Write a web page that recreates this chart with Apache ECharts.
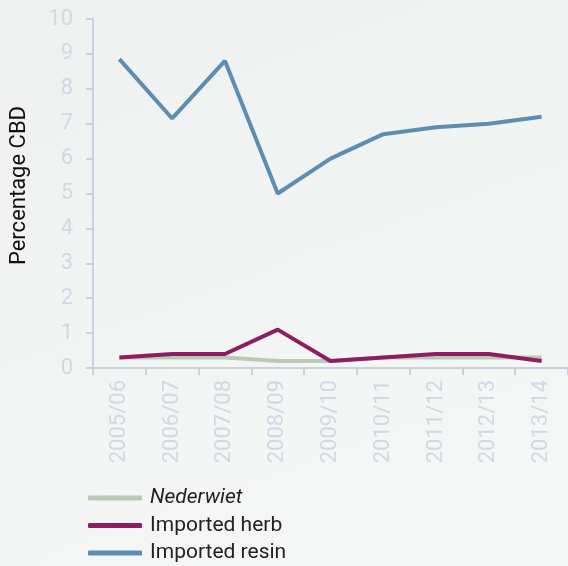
<!DOCTYPE html>
<html>
<head>
<meta charset="utf-8">
<script src="https://cdn.jsdelivr.net/npm/echarts@6/dist/echarts.min.js"></script>
<style>
  html, body { margin: 0; padding: 0; }
  #chart { width: 568px; height: 566px; background: linear-gradient(160deg, #eff0f0, #f6f7f7); }
</style>
</head>
<body>
<div id="chart"></div>
<script>
let years = ['2005/06', '2006/07', '2007/08', '2008/09', '2009/10', '2010/11', '2011/12', '2012/13', '2013/14']
let nederwiet = [0.3, 0.3, 0.3, 0.2, 0.2, 0.3, 0.3, 0.3, 0.3]
let importedHerb = [0.3, 0.4, 0.4, 1.1, 0.2, 0.3, 0.4, 0.4, 0.2]
let importedResin = [8.85, 7.15, 8.8, 5.0, 6.0, 6.7, 6.9, 7.0, 7.2]

let axisColor = '#c9d3df'
let labelColor = '#d0d9e4'
let font = 'Roboto'

function lineSeries(name, data, color) {
	return {
		name: name,
		type: 'line',
		data: data,
		symbol: 'none',
		lineStyle: { width: 4, color: color },
		itemStyle: { color: color },
		animation: false
	}
}

let myChart = echarts.init(document.getElementById('chart'))

let option = {
	grid: {
		left: 93,
		top: 19,
		width: 477,
		bottom: 198
	},
	legend: {
		orient: 'vertical',
		left: 88,
		top: 486,
		padding: 0,
		itemWidth: 54,
		itemHeight: 5,
		itemGap: 3.5,
		icon: 'roundRect',
		textStyle: { fontFamily: font, fontSize: 21, lineHeight: 24, color: '#222', padding: [0, 0, 0, 3] },
		data: [
			{ name: 'Nederwiet', textStyle: { fontStyle: 'italic' } },
			{ name: 'Imported herb' },
			{ name: 'Imported resin' }
		]
	},
	xAxis: {
		type: 'category',
		data: years,
		boundaryGap: true,
		axisLine: { lineStyle: { color: axisColor, width: 2 } },
		axisTick: { show: true, length: 7, lineStyle: { color: axisColor, width: 2 } },
		axisLabel: { rotate: 90, color: labelColor, fontFamily: font, fontSize: 22, margin: 12 }
	},
	yAxis: {
		type: 'value',
		min: 0,
		max: 10,
		interval: 1,
		name: 'Percentage CBD',
		nameLocation: 'middle',
		nameGap: 63,
		nameTextStyle: { color: '#111', fontFamily: font, fontSize: 22, padding: [0, 0, 0, 16] },
		splitLine: { show: false },
		axisLine: { show: true, lineStyle: { color: axisColor, width: 2 } },
		axisTick: { show: true, length: 7, lineStyle: { color: axisColor, width: 2 } },
		axisLabel: { color: labelColor, fontFamily: font, fontSize: 22, margin: 20 }
	},
	series: [
		lineSeries('Nederwiet', nederwiet, '#b9cbb7'),
		lineSeries('Imported herb', importedHerb, '#8e1d62'),
		lineSeries('Imported resin', importedResin, '#5d8db2')
	]
}

myChart.setOption(option)
</script>
</body>
</html>
